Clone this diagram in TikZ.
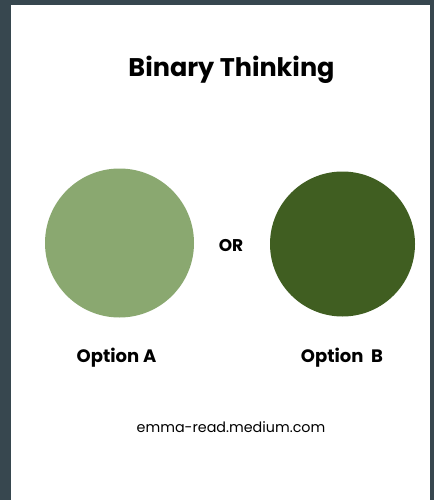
\documentclass[tikz,border=0pt]{standalone}
\usepackage{fontspec}
\setmainfont{Poppins}
\definecolor{slate}{HTML}{37474F}
\definecolor{sage}{HTML}{8AA870}
\definecolor{moss}{HTML}{405E21}
\begin{document}
\begin{tikzpicture}[x=1pt,y=-1pt]
	\tikzstyle{every node}+=[inner sep=0pt]
	\tikzstyle{optlabel}=[anchor=base,font=\bfseries\fontsize{18}{18}\selectfont]
	\tikzstyle{disc}=[circle,minimum size=149]
	% frame
	\fill [slate] (0,0) rectangle (434,500);
	\fill [white] (11,5) rectangle (430,500);
	\node [anchor=base,font=\bfseries\fontsize{25.5}{25.5}\selectfont] (title) at (231.5,76.5) {Binary Thinking};
	% the two choices
	\node [disc,fill=sage] (optA) at (119.5,243) {};
	\node [disc,fill=moss,minimum size=145] (optB) at (342.5,244) {};
	\node [optlabel,font=\bfseries\fontsize{17}{17}\selectfont] (or) at (231,251) {OR};
	\node [optlabel] (labA) at (116.5,362) {Option A};
	\node [optlabel] (labB) at (342,362) {Option\ \ B};
	\node [anchor=base,font=\fontsize{14.3}{14.3}\selectfont] (site) at (231,432.5) {emma-read.medium.com};
\end{tikzpicture}
\end{document}
